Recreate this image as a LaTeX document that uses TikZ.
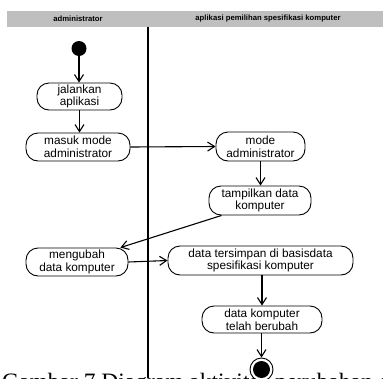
\documentclass[tikz,border=0pt]{standalone}
\usepackage{fontspec}
\setmainfont{Liberation Sans}
\newfontfamily\capfont{Liberation Serif}
\usetikzlibrary{arrows.meta}
\begin{document}
\begin{tikzpicture}[x=1pt,y=-1pt,
  act/.style={draw=black, line width=0.9pt, fill=white, rounded corners=12pt, inner sep=0pt, align=center, font=\fontsize{11.8}{12.7}\selectfont},
  flow/.style={-{Straight Barb[length=7pt,width=9pt]}, line width=1.1pt},
  hdr/.style={font=\bfseries\fontsize{7.7}{9}\selectfont, inner sep=0pt}
]
\useasboundingbox (0,0) rectangle (383,378);
\begin{scope}
\clip (0,0) rectangle (383,378);
\node[anchor=base west, font=\capfont\fontsize{23.5}{24}\selectfont, inner sep=0pt] (cap) at (2,389.3) {Gambar 7 Diagram aktivitas perubahan data};
\fill[black!25] (7,11) rectangle (383,26.5);
\node[hdr] (h1) at (78,19) {administrator};
\node[hdr] (h2) at (268,19) {aplikasi pemilihan spesifikasi komputer};
\draw[line width=1.2pt] (148,26.5) -- (148,378);

\node[circle, fill=black, minimum size=15pt, inner sep=0pt] (s) at (79,48.5) {};
\node[act, minimum width=85pt, minimum height=27pt] (j) at (79.5,96.5) {jalankan\\aplikasi};
\node[act, minimum width=104pt, minimum height=28pt] (m) at (78,147) {masuk mode\\administrator};
\node[act, minimum width=89pt, minimum height=29pt] (ma) at (260.5,146.5) {mode\\administrator};
\node[act, minimum width=102pt, minimum height=29pt] (t) at (260,200.5) {tampilkan data\\komputer};
\node[act, minimum width=102pt, minimum height=28pt] (u) at (77,262) {mengubah\\data komputer};
\node[act, minimum width=185pt, minimum height=29pt] (d) at (260.5,260.5) {data tersimpan di basisdata\\spesifikasi komputer};
\node[act, minimum width=120pt, minimum height=27pt] (b) at (262,319.5) {data komputer\\telah berubah};
\node[circle, draw=black, line width=0.9pt, fill=white, minimum size=23pt, inner sep=0pt] (e) at (261.5,369.5) {};
\fill[black] (e.center) circle (8.5pt);

\draw[flow] (s) -- (s |- j.north);
\draw[flow] (j) -- (j |- m.north);
\draw[flow] (m.east) -- (ma.west);
\draw[flow] (ma) -- (ma |- t.north);
\draw[flow] ([xshift=13pt]t.south west) -- ([xshift=-8pt]u.north east);
\draw[flow] (u.east) -- (d.west);
\draw[flow] (b |- d.south) -- (b.north);
\draw[flow] (e |- b.south) -- (e.north);
\end{scope}
\end{tikzpicture}
\end{document}
